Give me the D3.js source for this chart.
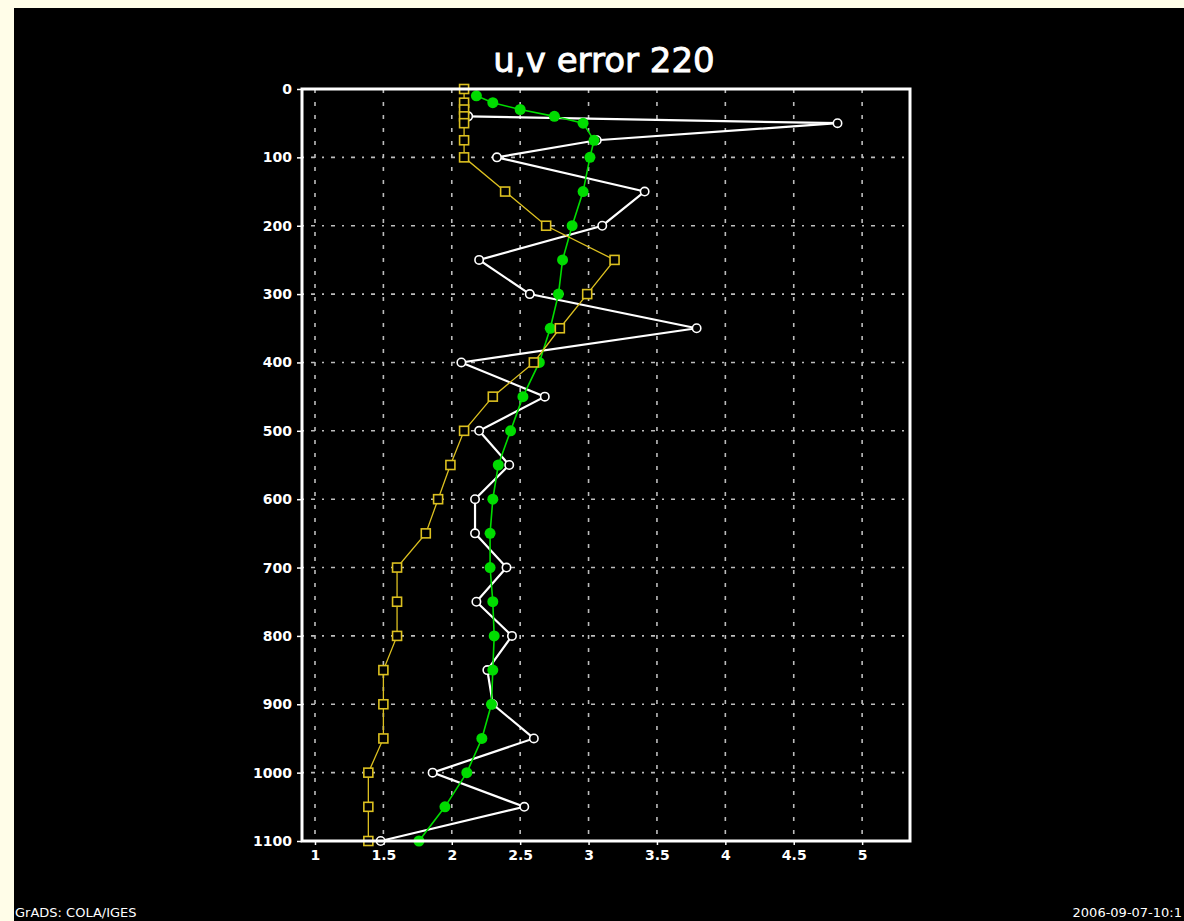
<!DOCTYPE html>
<html>
<head>
<meta charset="utf-8">
<script src="https://cdn.jsdelivr.net/npm/d3@7"></script>
<style>
  html, body { margin: 0; padding: 0; background: #fffde8; }
  svg { display: block; }
  text { fill: #ffffff; font-family: "DejaVu Sans", "Liberation Sans", sans-serif; }
</style>
</head>
<body>
<svg id="chart" width="1184" height="921"></svg>
<script>
// Vertical levels (0 at top, 1100 at bottom) and error values per series
const greenLevels = [10, 20, 30, 40, 50, 75, 100, 150, 200, 250, 300, 350, 400, 450, 500,
                     550, 600, 650, 700, 750, 800, 850, 900, 950, 1000, 1050, 1100];
const greenValues = [2.18, 2.30, 2.50, 2.75, 2.96, 3.04, 3.01, 2.96, 2.88, 2.81, 2.78, 2.72, 2.64, 2.52, 2.43,
                     2.34, 2.30, 2.28, 2.28, 2.30, 2.31, 2.30, 2.29, 2.22, 2.11, 1.95, 1.76];

const whiteLevels = [40, 50, 75, 100, 150, 200, 250, 300, 350, 400, 450, 500,
                     550, 600, 650, 700, 750, 800, 850, 900, 950, 1000, 1050, 1100];
const whiteValues = [2.12, 4.82, 3.06, 2.33, 3.41, 3.10, 2.20, 2.57, 3.79, 2.07, 2.68, 2.20,
                     2.42, 2.17, 2.17, 2.40, 2.18, 2.44, 2.26, 2.30, 2.60, 1.86, 2.53, 1.48];

const yellowLevels = [0, 20, 30, 40, 50, 75, 100, 150, 200, 250, 300, 350, 400, 450, 500,
                      550, 600, 650, 700, 750, 800, 850, 900, 950, 1000, 1050, 1100];
const yellowValues = [2.09, 2.09, 2.09, 2.09, 2.09, 2.09, 2.09, 2.39, 2.69, 3.19, 2.99, 2.79, 2.60, 2.30, 2.09,
                      1.99, 1.90, 1.81, 1.60, 1.60, 1.60, 1.50, 1.50, 1.50, 1.39, 1.39, 1.39];

const xTickValues = [1, 1.5, 2, 2.5, 3, 3.5, 4, 4.5, 5];
const xTickLabels = ["1", "1.5", "2", "2.5", "3", "3.5", "4", "4.5", "5"];
const yTickValues = [0, 100, 200, 300, 400, 500, 600, 700, 800, 900, 1000, 1100];

const titleText = "u,v error 220";
const footerLeft = "GrADS: COLA/IGES";
const footerRight = "2006-09-07-10:1";

const svg = d3.select("#chart");

// black page area inside the pale border
svg.append("rect").attr("x", 14).attr("y", 8).attr("width", 1170).attr("height", 913).attr("fill", "#000");

const x = d3.scaleLinear().domain([0.905, 5.35]).range([302, 910]);
const y = d3.scaleLinear().domain([0, 1100]).range([89, 841]);

// grid
const grid = svg.append("g").attr("stroke", "#bdbdbd").attr("stroke-width", 1.6);
grid.selectAll("line.v").data(xTickValues).join("line")
  .attr("x1", d => x(d)).attr("x2", d => x(d))
  .attr("y1", y(0)).attr("y2", y(1100))
  .attr("stroke-dasharray", "4,9");
grid.selectAll("line.h").data(yTickValues).join("line")
  .attr("y1", d => y(d)).attr("y2", d => y(d))
  .attr("x1", x.range()[0]).attr("x2", x.range()[1])
  .attr("stroke-dasharray", "2,7,4,7");

// axes
const xAxis = d3.axisBottom(x).tickValues(xTickValues)
  .tickFormat((d, i) => xTickLabels[i]).tickSize(4).tickPadding(5);
const yAxis = d3.axisLeft(y).tickValues(yTickValues)
  .tickFormat(d3.format("d")).tickSize(5).tickPadding(5);

const gx = svg.append("g").attr("transform", `translate(0,${y(1100)})`).call(xAxis);
const gy = svg.append("g").attr("transform", `translate(${x.range()[0]},0)`).call(yAxis);
[gx, gy].forEach(g => {
  g.select(".domain").remove();
  g.selectAll(".tick line").attr("stroke", "#fff").attr("stroke-width", 1.5);
  g.selectAll(".tick text")
    .attr("fill", "#fff")
    .style("font-size", "14px")
    .style("font-weight", "bold")
    .style("font-family", "'DejaVu Sans', sans-serif");
});

// series
function drawSeries(levels, values, color, width) {
  const pts = levels.map((lv, i) => [values[i], lv]);
  svg.append("path")
    .datum(pts)
    .attr("fill", "none")
    .attr("stroke", color)
    .attr("stroke-width", width)
    .attr("d", d3.line().x(d => x(d[0])).y(d => y(d[1])));
  return pts;
}

const whitePts = drawSeries(whiteLevels, whiteValues, "#ffffff", 2.2);
svg.append("g").selectAll("circle").data(whitePts).join("circle")
  .attr("cx", d => x(d[0])).attr("cy", d => y(d[1])).attr("r", 4.2)
  .attr("fill", "#000").attr("stroke", "#fff").attr("stroke-width", 1.6);

const greenPts = drawSeries(greenLevels, greenValues, "#00dc00", 1.6);
svg.append("g").selectAll("circle").data(greenPts).join("circle")
  .attr("cx", d => x(d[0])).attr("cy", d => y(d[1])).attr("r", 5.5)
  .attr("fill", "#00dc00");

const yellowPts = drawSeries(yellowLevels, yellowValues, "#dcc020", 1.3);
svg.append("g").selectAll("rect").data(yellowPts).join("rect")
  .attr("x", d => x(d[0]) - 4.5).attr("y", d => y(d[1]) - 4.5)
  .attr("width", 9).attr("height", 9)
  .attr("fill", "#000").attr("stroke", "#dcc020").attr("stroke-width", 1.6);

// frame
svg.append("rect")
  .attr("x", x.range()[0]).attr("y", y(0))
  .attr("width", x.range()[1] - x.range()[0]).attr("height", y(1100) - y(0))
  .attr("fill", "none").attr("stroke", "#fff").attr("stroke-width", 3);

// title
svg.append("text")
  .attr("x", 604).attr("y", 72)
  .attr("text-anchor", "middle")
  .style("font-size", "34px")
  .style("stroke", "#fff")
  .style("stroke-width", "0.9px")
  .text(titleText);

// footer text
svg.append("text")
  .attr("x", 15).attr("y", 917)
  .style("font-size", "13px")
  .text(footerLeft);
svg.append("text")
  .attr("x", 1182).attr("y", 917)
  .attr("text-anchor", "end")
  .style("font-size", "13px")
  .text(footerRight);
</script>
</body>
</html>
